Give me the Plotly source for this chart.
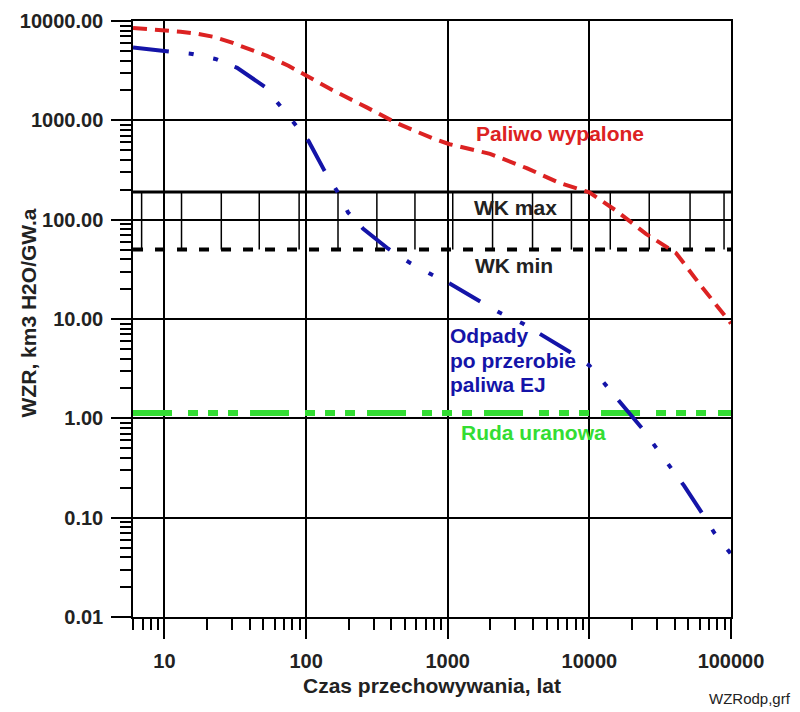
import plotly.graph_objects as go

# ---- data ----
red_x = [6, 8, 10, 13, 17, 22, 30, 40, 53, 75, 101, 155, 268, 434, 780, 1030, 1990, 3610,
         6220, 10000, 15500, 25100, 41000, 59600, 100000]
red_y = [8500, 8300, 8070, 7800, 7450, 6950, 6050, 5250, 4460, 3550, 2800, 2000, 1350, 940,
         660, 575, 460, 330, 233, 188, 123, 72, 46, 22.8, 9]

blue_x = [6, 10, 15.7, 22.9, 32.6, 51, 65.6, 86.5, 104, 135, 165, 198, 253, 380, 537, 770,
          1033, 1740, 2320, 3390, 4680, 7590, 10000, 13200, 16800, 23600, 29500, 37700,
          46600, 62500, 75900, 100000]
blue_y = [5400, 5000, 4660, 4150, 3380, 2180, 1400, 880, 620, 310, 195, 118, 81, 51, 37, 28,
          22.8, 14.7, 11.6, 9.0, 6.8, 4.5, 3.4, 2.14, 1.41, 0.79, 0.51, 0.32,
          0.21, 0.111, 0.071, 0.043]

green_x = [6, 100000]
green_y = [1.13, 1.13]

wk_x = [6, 100000]
wk_max = 190
wk_min = 50
hatch_x = [6.9, 13.2, 25.2, 46.7, 89.3, 168, 316, 587, 1085, 2073, 3970, 7470,
           14050, 26470, 51400, 89300]

x_tickvals = [10, 100, 1000, 10000, 100000]
x_ticktext = ["10", "100", "1000", "10000", "100000"]
y_tickvals = [0.01, 0.1, 1, 10, 100, 1000, 10000]
y_ticktext = ["0.01", "0.10", "1.00", "10.00", "100.00", "1000.00", "10000.00"]

RED = "#dc2222"
BLUE = "#1414a8"
GREEN = "#33dd33"
FONT = "Liberation Sans"

fig = go.Figure()

# hatch between WK max and WK min
hx, hy = [], []
for xv in hatch_x:
    hx += [xv, xv, None]
    hy += [wk_max, wk_min, None]
fig.add_trace(go.Scatter(x=hx, y=hy, mode="lines", line=dict(color="black", width=1.5),
                         hoverinfo="skip"))
fig.add_trace(go.Scatter(x=wk_x, y=[wk_max, wk_max], mode="lines",
                         line=dict(color="black", width=3)))
fig.add_trace(go.Scatter(x=wk_x, y=[wk_min, wk_min], mode="lines",
                         line=dict(color="black", width=4, dash="10px,12px")))

fig.add_trace(go.Scatter(x=green_x, y=green_y, mode="lines",
                         line=dict(color=GREEN, width=6,
                                   dash="39px,16px,10px,10px,10px,10px,10px,12px")))
fig.add_trace(go.Scatter(x=red_x, y=red_y, mode="lines",
                         line=dict(color=RED, width=4, dash="14px,8px")))
fig.add_trace(go.Scatter(x=blue_x, y=blue_y, mode="lines",
                         line=dict(color=BLUE, width=4, dash="36px,20px,5px,20px,5px,18px")))

axis_common = dict(
    type="log", showline=True, linecolor="black", linewidth=1.5, mirror=True,
    showgrid=True, gridcolor="black", gridwidth=1.5, zeroline=False, automargin=False,
    ticks="outside", ticklen=20, tickwidth=1.5, tickcolor="black",
    tickfont=dict(family=FONT, size=20, color="#222222", weight="bold"),
    minor=dict(ticks="outside", ticklen=11, tickwidth=1.5, tickcolor="black",
               dtick="D1", showgrid=False),
)

fig.update_xaxes(range=[0.778, 5.0], tickvals=x_tickvals, ticktext=x_ticktext,
                 ticklabelstandoff=5, **axis_common)
fig.update_yaxes(range=[-2, 4], tickvals=y_tickvals, ticktext=y_ticktext,
                 ticklabelstandoff=4, **axis_common)

ann_font = dict(family=FONT, size=21, weight="bold")
annotations = [
    dict(x=0.5, y=-0.115, xref="paper", yref="paper", text="Czas przechowywania, lat",
         showarrow=False, font=dict(family=FONT, size=21, color="#222222", weight="bold"),
         xanchor="center", yanchor="middle"),
    dict(x=-0.175, y=0.51, xref="paper", yref="paper", text="WZR, km3 H2O/GW.a",
         textangle=-90, showarrow=False,
         font=dict(family=FONT, size=21, color="#222222", weight="bold"),
         xanchor="center", yanchor="middle"),
    dict(x=3.79, y=2.87, xref="x", yref="y", text="Paliwo wypalone", showarrow=False,
         font=dict(ann_font, color=RED), xanchor="center", yanchor="middle"),
    dict(x=3.48, y=2.12, xref="x", yref="y", text="WK max", showarrow=False,
         font=dict(ann_font, color="#222222"), xanchor="center", yanchor="middle"),
    dict(x=3.47, y=1.54, xref="x", yref="y", text="WK min", showarrow=False,
         font=dict(ann_font, color="#222222"), xanchor="center", yanchor="middle"),
    dict(x=3.0, y=0.838, xref="x", yref="y", text="Odpady",
         showarrow=False, font=dict(ann_font, color=BLUE),
         xanchor="left", yanchor="middle"),
    dict(x=3.0, y=0.587, xref="x", yref="y", text="po przerobie",
         showarrow=False, font=dict(ann_font, color=BLUE),
         xanchor="left", yanchor="middle"),
    dict(x=3.0, y=0.345, xref="x", yref="y", text="paliwa EJ",
         showarrow=False, font=dict(ann_font, color=BLUE),
         xanchor="left", yanchor="middle"),
    dict(x=3.08, y=-0.14, xref="x", yref="y", text="Ruda uranowa", showarrow=False,
         font=dict(ann_font, color=GREEN), xanchor="left", yanchor="middle"),
    dict(x=1.103, y=-0.137, xref="paper", yref="paper", text="WZRodp,grf", showarrow=False,
         font=dict(family=FONT, size=15, color="#222222"), xanchor="right",
         yanchor="middle"),
]

# the page body adds an 8px margin, so the figure is 8px smaller on each side
fig.update_layout(
    width=792, height=704,
    margin=dict(l=125, r=69, t=13, b=95),
    paper_bgcolor="white", plot_bgcolor="white",
    showlegend=False,
    annotations=annotations,
)

fig.write_html("out.html")
